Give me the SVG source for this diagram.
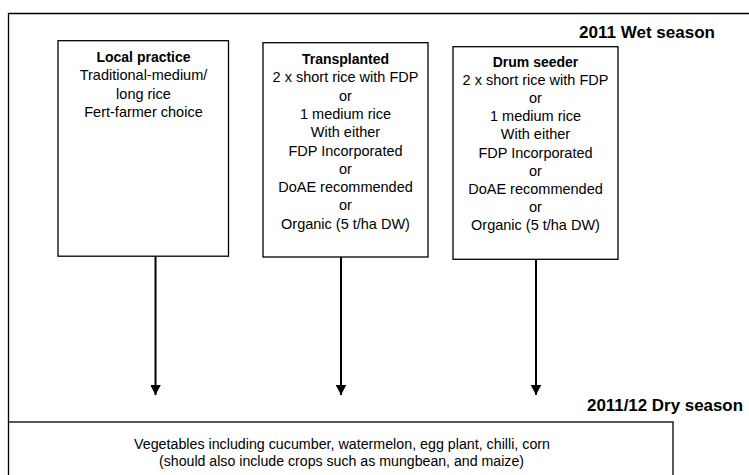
<svg xmlns="http://www.w3.org/2000/svg" width="749" height="475" viewBox="0 0 749 475">
<style>
.bx{fill:#fff;stroke:#000;stroke-width:1.3}
.t{font-family:"Liberation Sans",Arial,sans-serif;font-size:14.5px;fill:#000;text-anchor:middle}
.h{font-weight:bold;font-size:14px}
.s{font-family:"Liberation Sans",Arial,sans-serif;font-size:16px;font-weight:bold;fill:#000}
.b{font-family:"Liberation Sans",Arial,sans-serif;font-size:14px;fill:#000;text-anchor:middle}
.c{stroke:#000;stroke-width:2;fill:none}
</style>
<defs>
<marker id="ah" markerUnits="userSpaceOnUse" markerWidth="11" markerHeight="10" refX="10" refY="5.3" orient="auto">
<path d="M0,0 L10,5.3 L0,10.6 Z" fill="#000"/>
</marker>
</defs>
<rect width="749" height="475" fill="#fff"/>
<g id="frame">
<path d="M749,13.5 H8.5 V422" fill="none" stroke="#000" stroke-width="1.3"/>
<text class="s" x="579" y="37.5" textLength="136" lengthAdjust="spacingAndGlyphs">2011 Wet season</text>
<text class="s" x="587" y="410.5" textLength="156" lengthAdjust="spacingAndGlyphs">2011/12 Dry season</text>
</g>
<g id="local">
<rect class="bx" x="58" y="40.7" width="170.5" height="215.5"/>
<text class="t h" x="143.5" y="62">Local practice</text>
<text class="t" x="143.5" y="80.3">Traditional-medium/</text>
<text class="t" x="143.5" y="98.6">long rice</text>
<text class="t" x="143.5" y="116.9">Fert-farmer choice</text>
</g>
<g id="transplanted">
<rect class="bx" x="263" y="42.7" width="165" height="214.3"/>
<text class="t h" x="345.5" y="64">Transplanted</text>
<text class="t" x="345.5" y="82.3">2 x short rice with FDP</text>
<text class="t" x="345.5" y="100.6">or</text>
<text class="t" x="345.5" y="118.9">1 medium rice</text>
<text class="t" x="345.5" y="137.2">With either</text>
<text class="t" x="345.5" y="155.5">FDP Incorporated</text>
<text class="t" x="345.5" y="173.8">or</text>
<text class="t" x="345.5" y="192.1">DoAE recommended</text>
<text class="t" x="345.5" y="210.4">or</text>
<text class="t" x="345.5" y="228.7">Organic (5 t/ha DW)</text>
</g>
<g id="drum">
<rect class="bx" x="453" y="46.7" width="165" height="212.6"/>
<text class="t h" x="535.5" y="66.5">Drum seeder</text>
<text class="t" x="535.5" y="84.7">2 x short rice with FDP</text>
<text class="t" x="535.5" y="102.9">or</text>
<text class="t" x="535.5" y="121.1">1 medium rice</text>
<text class="t" x="535.5" y="139.3">With either</text>
<text class="t" x="535.5" y="157.5">FDP Incorporated</text>
<text class="t" x="535.5" y="175.7">or</text>
<text class="t" x="535.5" y="193.9">DoAE recommended</text>
<text class="t" x="535.5" y="212.1">or</text>
<text class="t" x="535.5" y="230.3">Organic (5 t/ha DW)</text>
</g>
<g id="dry">
<rect class="bx" x="8.5" y="422" width="664.5" height="70"/>
<text class="b" x="342" y="449" textLength="416" lengthAdjust="spacingAndGlyphs">Vegetables including cucumber, watermelon, egg plant, chilli, corn</text>
<text class="b" x="341.5" y="466" textLength="365" lengthAdjust="spacingAndGlyphs">(should also include crops such as mungbean, and maize)</text>
</g>
<g id="connectors">
<line class="c" x1="155.5" y1="256" x2="155.5" y2="395" marker-end="url(#ah)"/>
<line class="c" x1="341" y1="257" x2="341" y2="395" marker-end="url(#ah)"/>
<line class="c" x1="536" y1="259" x2="536" y2="395" marker-end="url(#ah)"/>
</g>
</svg>
